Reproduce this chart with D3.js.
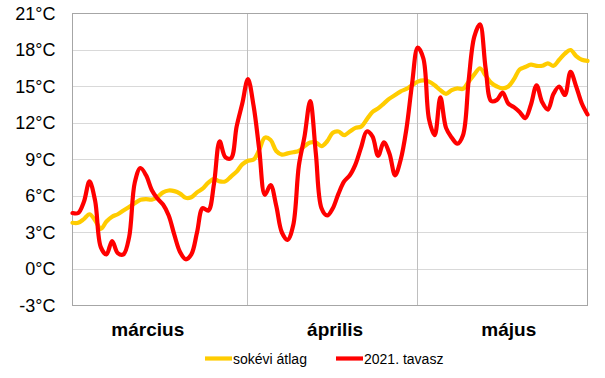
<!DOCTYPE html>
<html>
<head>
<meta charset="utf-8">
<script src="https://cdn.jsdelivr.net/npm/d3@7"></script>
<style>
  html, body { margin: 0; padding: 0; background: #fff; }
  svg { display: block; font-family: "Liberation Sans", Arial, sans-serif; }
</style>
</head>
<body>
<svg id="chart" width="605" height="378"></svg>
<script>
// ---- data ----
const months = ["március", "április", "május"];
const monthStartDay = [0, 31, 61];          // day index where each month starts
const monthLabelDay = [13.3, 46.4, 77.1];   // where the month labels are centred
const yTicks = [-3, 0, 3, 6, 9, 12, 15, 18, 21];
const seriesNames = ["sokévi átlag", "2021. tavasz"];

// daily long-term average (1 Mar – 31 May)
const avgTemp = [
  3.8, 3.8, 4.1, 4.5, 4.0, 3.3, 3.9, 4.3, 4.5, 4.8,
  5.1, 5.4, 5.7, 5.75, 5.7, 5.9, 6.3, 6.45, 6.4, 6.2,
  5.85, 5.9, 6.3, 6.6, 7.1, 7.4, 7.2, 7.2, 7.6, 8.0,
  8.6, 8.9, 9.0, 9.8, 10.8, 10.6, 9.7, 9.4, 9.5, 9.6,
  9.7, 10.1, 10.4, 10.4, 10.1, 10.5, 11.2, 11.3, 11.0, 11.3,
  11.6, 11.7, 12.3, 12.9, 13.2, 13.6, 14.0, 14.3, 14.6, 14.8,
  15.1, 15.4, 15.5, 15.4, 15.1, 14.7, 14.4, 14.7, 14.85, 14.8,
  15.4, 16.0, 16.5, 15.9, 15.3, 15.0, 14.85, 15.0, 15.6, 16.4,
  16.6, 16.8, 16.7, 16.7, 16.9, 16.7, 17.2, 17.7, 18.0, 17.5,
  17.2, 17.1
];

// daily mean temperature, spring 2021
const temp2021 = [
  4.6, 4.6, 5.5, 7.2, 5.6, 1.8, 1.2, 2.3, 1.3, 1.2,
  2.6, 7.1, 8.3, 7.7, 6.5, 5.8, 5.3, 4.4, 2.8, 1.4,
  0.8, 1.2, 3.0, 5.0, 4.8, 7.0, 10.5, 9.2, 9.1, 11.7,
  13.6, 15.6, 13.4, 9.8, 6.1, 6.9, 5.2, 3.0, 2.4, 3.6,
  8.5, 10.9, 13.8, 9.5, 5.0, 4.4, 5.0, 6.2, 7.2, 7.7,
  8.6, 10.0, 11.3, 10.9, 9.3, 10.4, 9.5, 7.7, 9.0, 11.5,
  15.2, 18.2, 17.3, 12.3, 11.0, 14.1, 11.6, 10.8, 10.3, 11.0,
  15.5, 19.1, 20.1, 16.5, 13.8, 13.9, 14.5, 13.6, 13.3, 12.9,
  12.4, 13.5, 15.1, 13.7, 13.1, 14.4, 15.0, 14.3, 16.2, 15.0,
  13.6, 12.7
];

// ---- chart ----
const svg = d3.select("#chart");
const L = 72.5, R = 587.5, T = 13.5, B = 305.5;

const x = d3.scaleLinear().domain([0, avgTemp.length - 1]).range([L, R]);
const y = d3.scaleLinear().domain([-3, 21]).range([B, T]);
const snap = v => Math.round(v - 0.5) + 0.5;

// horizontal gridlines
svg.append("g").selectAll("line")
  .data(yTicks.filter(t => t !== -3 && t !== 21))
  .join("line")
  .attr("x1", L).attr("x2", R)
  .attr("y1", d => snap(y(d))).attr("y2", d => snap(y(d)))
  .attr("stroke", "#D9D9D9").attr("stroke-width", 1);

// vertical month separators
svg.append("g").selectAll("line")
  .data(monthStartDay.slice(1))
  .join("line")
  .attr("x1", d => snap(x(d))).attr("x2", d => snap(x(d)))
  .attr("y1", T).attr("y2", B)
  .attr("stroke", "#BFBFBF").attr("stroke-width", 1);

// plot border
svg.append("rect")
  .attr("x", L).attr("y", T)
  .attr("width", R - L).attr("height", B - T)
  .attr("fill", "none").attr("stroke", "#A6A6A6").attr("stroke-width", 1);

// y axis labels
const yAxis = d3.axisLeft(y).tickValues(yTicks).tickSize(0).tickPadding(17)
  .tickFormat(d => d + "°C");
svg.append("g").attr("transform", `translate(${L},0)`).call(yAxis)
  .call(g => g.select(".domain").remove())
  .selectAll("text")
  .attr("font-family", "'Liberation Sans', Arial, sans-serif")
  .attr("font-size", 18).attr("fill", "#000");

// month labels
svg.append("g").selectAll("text")
  .data(months)
  .join("text")
  .attr("x", (d, i) => x(monthLabelDay[i]))
  .attr("y", 336)
  .attr("text-anchor", "middle")
  .attr("font-size", 19).attr("font-weight", "bold")
  .attr("fill", "#000")
  .text(d => d);

// lines
const line = d3.line()
  .x((d, i) => x(i))
  .y(d => y(d))
  .curve(d3.curveCatmullRom.alpha(0.5));

const colors = ["#FFCC00", "#FF0000"];
[avgTemp, temp2021].forEach((s, k) => {
  svg.append("path")
    .datum(s)
    .attr("d", line)
    .attr("fill", "none")
    .attr("stroke", colors[k])
    .attr("stroke-width", 4.2)
    .attr("stroke-linejoin", "round")
    .attr("stroke-linecap", "round");
});

// legend
const legendItems = [
  { name: seriesNames[0], color: colors[0], x: 205 },
  { name: seriesNames[1], color: colors[1], x: 336 }
];
const lg = svg.append("g");
legendItems.forEach(it => {
  lg.append("line")
    .attr("x1", it.x).attr("x2", it.x + 27)
    .attr("y1", 358.5).attr("y2", 358.5)
    .attr("stroke", it.color).attr("stroke-width", 4.2);
  lg.append("text")
    .attr("x", it.x + 28).attr("y", 363.5)
    .attr("font-size", 14).attr("fill", "#000")
    .text(it.name);
});
</script>
</body>
</html>
